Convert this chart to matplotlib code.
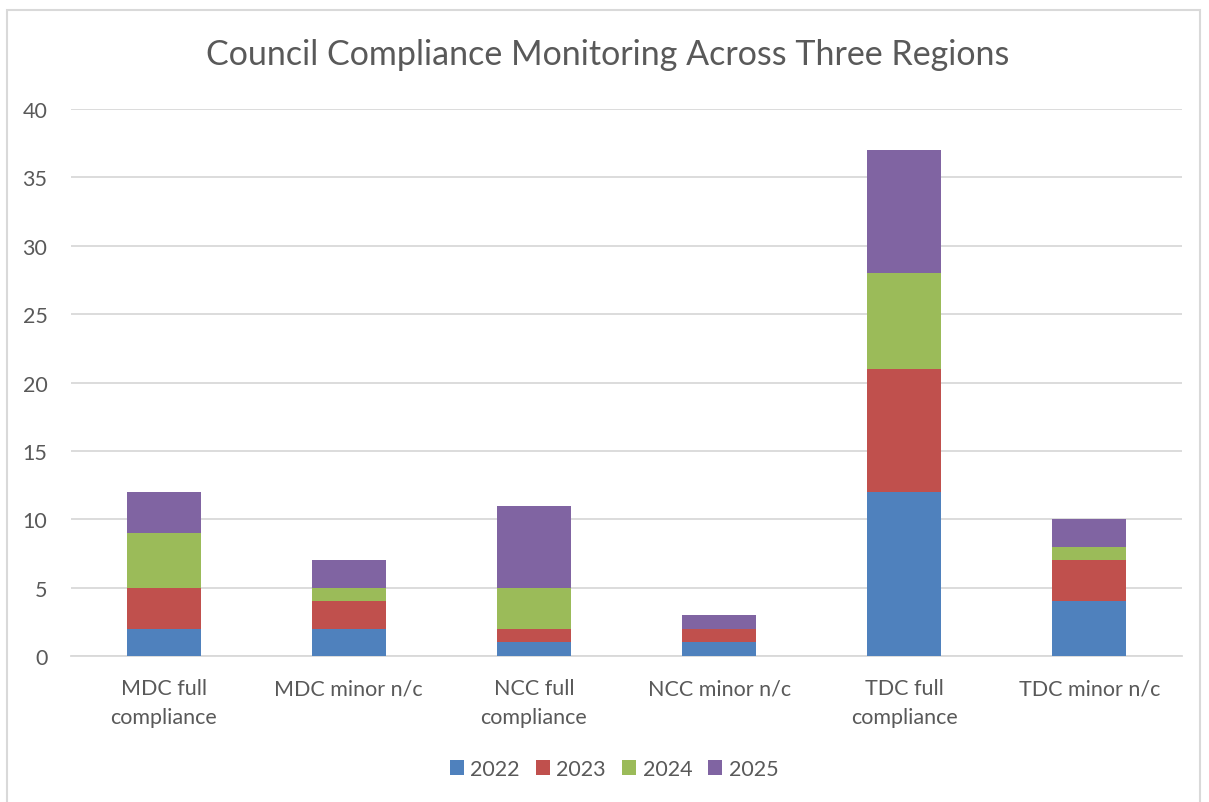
import numpy as np
import matplotlib.pyplot as plt
from matplotlib.patches import Rectangle

# data
categories = ['MDC full\ncompliance', 'MDC minor n/c', 'NCC full\ncompliance',
              'NCC minor n/c', 'TDC full\ncompliance', 'TDC minor n/c']
years = ['2022', '2023', '2024', '2025']
v2022 = [2, 2, 1, 1, 12, 4]
v2023 = [3, 2, 1, 1, 9, 3]
v2024 = [4, 1, 3, 0, 7, 1]
v2025 = [3, 2, 6, 1, 9, 2]
colors = ['#4F81BD', '#C0504D', '#9BBB59', '#8064A2']

plt.rcParams['font.family'] = ['Lato', 'DejaVu Sans']
txt = '#595959'

fig = plt.figure(figsize=(12.09, 8.03), dpi=100)
ax = fig.add_axes([71 / 1209, 1 - 657 / 803, (1182 - 71) / 1209, (657 - 110) / 803])

x = np.arange(len(categories))
bottom = np.zeros(len(categories))
for name, vals, c in zip(years, [v2022, v2023, v2024, v2025], colors):
    ax.bar(x, vals, 0.4, bottom=bottom, color=c, label=name, zorder=3)
    bottom += np.array(vals)

ax.set_xlim(-0.5, 5.5)
ax.set_ylim(0, 40)
ax.set_yticks(range(0, 41, 5))
ax.set_xticks(x)
ax.set_xticklabels(categories, fontsize=15.5, color=txt, linespacing=1.55)
ax.tick_params(axis='y', labelsize=15.5, labelcolor=txt, length=0, pad=17)
ax.tick_params(axis='x', length=0, pad=16)
ax.grid(axis='y', color='#D9D9D9', lw=1.3, zorder=0)
for s in ['top', 'right', 'left']:
    ax.spines[s].set_visible(False)
ax.spines['bottom'].set_color('#D9D9D9')
ax.spines['bottom'].set_linewidth(1.3)

fig.text(0.503, 1 - 55 / 803, 'Council Compliance Monitoring Across Three Regions',
         ha='center', va='center', fontsize=24.5, color=txt)

fig.legend(loc='center', bbox_to_anchor=(0.508, 1 - 770 / 803), ncol=4, frameon=False,
           fontsize=15.5, labelcolor=txt, handlelength=0.65, handleheight=0.65,
           handletextpad=0.3, columnspacing=0.75)

fig.patches.append(Rectangle((7 / 1209, -0.05), (1200 - 7) / 1209, 1.05 - 11 / 803,
                             transform=fig.transFigure, fill=False,
                             edgecolor='#D9D9D9', lw=1.5))

fig.savefig('out.png', dpi=100)
